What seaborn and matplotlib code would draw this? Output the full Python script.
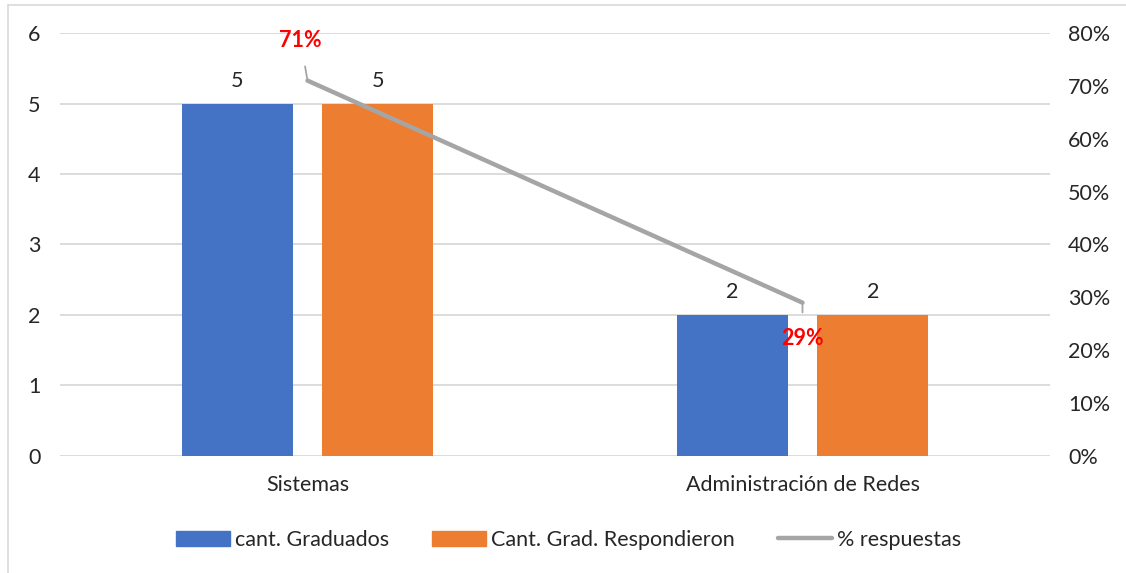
import matplotlib
matplotlib.use("Agg")
import matplotlib.pyplot as plt
import seaborn as sns
import pandas as pd
from matplotlib.ticker import PercentFormatter
from matplotlib.patches import Patch
from matplotlib.lines import Line2D

carreras = ["Sistemas", "Administración de Redes"]
graduados = [5, 2]
respondieron = [5, 2]
pct_respuestas = [0.71, 0.29]
pct_labels = ["71%", "29%"]
series = ["cant. Graduados", "Cant. Grad. Respondieron"]

azul = "#4472C4"
naranja = "#ED7D31"
gris = "#A5A5A5"

df = pd.DataFrame({
    "carrera": carreras * 2,
    "serie": [series[0]] * 2 + [series[1]] * 2,
    "valor": graduados + respondieron,
})

sns.set_style("white")
plt.rcParams["font.family"] = ["Lato", "DejaVu Sans"]
fs = 15.5

fig = plt.figure(figsize=(11.26, 5.73), dpi=100)
ax = fig.add_axes([0.0533, 0.2042, 0.8792, 0.7382])

sns.barplot(data=df, x="carrera", y="valor", hue="serie", palette=[azul, naranja],
            width=0.568, gap=0.21, saturation=1, linewidth=0, ax=ax, legend=False)
for c in ax.containers:
    ax.bar_label(c, fontsize=fs, padding=9)

ax.set_ylim(0, 6)
ax.set_xlim(-0.5, 1.5)
ax.set_yticks(range(0, 7))
ax.yaxis.grid(True, color="#D9D9D9", lw=1.3)
ax.set_axisbelow(True)
ax.set_xlabel("")
ax.set_ylabel("")
ax.tick_params(axis="both", length=0, labelsize=fs)
ax.tick_params(axis="y", pad=14)
ax.tick_params(axis="x", pad=14)
for s in ax.spines.values():
    s.set_visible(False)

ax2 = ax.twinx()
sns.lineplot(x=carreras, y=pct_respuestas, color=gris, lw=3.2, ax=ax2)
ax2.set_ylim(0, 0.8)
ax2.set_yticks([i / 10 for i in range(9)])
ax2.yaxis.set_major_formatter(PercentFormatter(1.0, decimals=0))
ax2.tick_params(axis="y", length=0, labelsize=fs, pad=13)
for s in ax2.spines.values():
    s.set_visible(False)

offsets = [(-5, 29), (0, -26)]
for i, (v, lab) in enumerate(zip(pct_respuestas, pct_labels)):
    ax2.annotate(lab, xy=(i, v), xytext=offsets[i], textcoords="offset points",
                 ha="center", va="center", color="red", fontweight="bold", fontsize=fs,
                 arrowprops=dict(arrowstyle="-", color=gris, lw=1.3, shrinkA=9, shrinkB=0))

handles = [Patch(color=azul), Patch(color=naranja), Line2D([], [], color=gris, lw=3.2)]
fig.legend(handles, series + ["% respuestas"], loc="center", bbox_to_anchor=(0.505, 0.058),
           ncol=3, frameon=False, fontsize=fs, handlelength=2.5, handleheight=0.7,
           columnspacing=2.0, handletextpad=0.25)

fig.add_artist(Line2D([8 / 1126, 8 / 1126], [0, 1 - 5 / 573], color="#D9D9D9", lw=1.2))
fig.add_artist(Line2D([8 / 1126, 1], [1 - 5 / 573, 1 - 5 / 573], color="#D9D9D9", lw=1.2))

fig.savefig("out.png", dpi=100)
